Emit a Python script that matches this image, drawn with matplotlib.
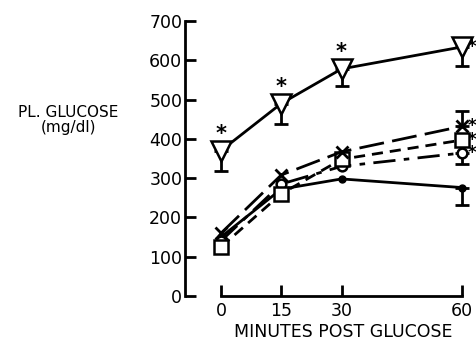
import matplotlib
matplotlib.use("Agg")
import matplotlib.pyplot as plt

minutes = [0, 15, 30, 60]
xticks = [0, 15, 30, 60]
yticks = [0, 100, 200, 300, 400, 500, 600, 700]

tri = [370, 490, 578, 634]
tri_err = [52, 52, 44, 48]
xser = [160, 308, 367, 432]
xser_err_up = [0, 0, 0, 38]
sq = [125, 260, 348, 397]
oc = [140, 285, 330, 364]
oc_err = [0, 0, 0, 28]
fc = [150, 272, 298, 276]
fc_err = [0, 0, 0, 45]

star_tri = [0, 15, 30, 60]

plt.rcParams['font.family'] = ['DejaVu Sans']
fig = plt.figure(figsize=(4.76, 3.41), dpi=100)
W, H = 476, 341
left_px, right_px = 185, 476
top_px, bot_px = 21, 296
ax = fig.add_axes([left_px / W, 1 - bot_px / H, (right_px - left_px) / W, (bot_px - top_px) / H])
pxmin = (462 - 221) / 60.0
ax.set_xlim(-(221 - left_px) / pxmin, (right_px - 221) / pxmin)
ax.set_ylim(0, 700)

lw = 2.0
k = 'black'


def ebar(xs, ys, lo, hi, z):
    idx = [i for i in range(len(xs)) if lo[i] or hi[i]]
    if not idx:
        return
    ax.errorbar([xs[i] for i in idx], [ys[i] for i in idx],
                yerr=[[lo[i] for i in idx], [hi[i] for i in idx]], fmt='none',
                ecolor=k, elinewidth=lw, capsize=5, capthick=lw, clip_on=False, zorder=z)


zeros = [0, 0, 0, 0]
# filled circle, solid
ax.plot(minutes, fc, color=k, lw=lw, marker='o', ms=5, clip_on=False, zorder=3)
ebar(minutes, fc, fc_err, zeros, 2)
# open circle, dash-dot
ax.plot(minutes, oc, color=k, lw=lw, marker='o', ms=7, mfc='white', mew=1.8,
        linestyle=(0, (8, 3, 2, 3)), clip_on=False, zorder=4)
ebar(minutes, oc, oc_err, zeros, 2)
# square, short dashes
ax.plot(minutes, sq, color=k, lw=lw, marker='s', ms=10, mfc='white', mew=1.8,
        linestyle=(0, (4, 2.5)), clip_on=False, zorder=4)
# x marker, long dashes
ax.plot(minutes, xser, color=k, lw=lw, marker='x', ms=8, mew=2,
        linestyle=(0, (9, 3)), clip_on=False, zorder=5)
ebar(minutes, xser, zeros, xser_err_up, 2)
# triangle, solid
ax.plot(minutes, tri, color=k, lw=lw, marker='v', ms=14, mfc='white', mew=1.8,
        clip_on=False, zorder=5)
ebar(minutes, tri, tri_err, zeros, 2)

# asterisks
for i, m in enumerate(minutes):
    if m in star_tri and m != 60:
        ax.annotate('*', (m, tri[i]), xytext=(0, 12), textcoords='offset points',
                    ha='center', va='center', fontsize=15, fontweight='bold')
for series in (tri, xser, sq, oc):
    ax.annotate('*', (60, series[-1]), xytext=(7.5, 0), textcoords='offset points',
                ha='center', va='center', fontsize=12, fontweight='bold', annotation_clip=False)

for s in ('top', 'right'):
    ax.spines[s].set_visible(False)
ax.spines['left'].set_linewidth(2)
ax.spines['bottom'].set_linewidth(2)
ax.spines['bottom'].set_bounds(0, 60)
ax.spines['bottom'].set_position(('data', 0))
ax.set_xticks(xticks)
ax.set_xticklabels([str(t) for t in xticks])
ax.set_yticks(yticks)
ax.set_yticklabels([str(t) for t in yticks])
ax.tick_params(axis='both', direction='in', length=8, width=2, labelsize=12.5)
ax.tick_params(axis='x', pad=4)
ax.tick_params(axis='y', pad=2)

ax.set_xlabel('MINUTES POST GLUCOSE', fontsize=12.5)
ax.xaxis.set_label_coords((343 - left_px) / (right_px - left_px), -(323 - bot_px) / (bot_px - top_px))
fig.text(68 / W, 1 - 120 / H, 'PL. GLUCOSE\n(mg/dl)', ha='center', va='center', fontsize=11,
         linespacing=1.0)

fig.savefig('out.png', dpi=100)
